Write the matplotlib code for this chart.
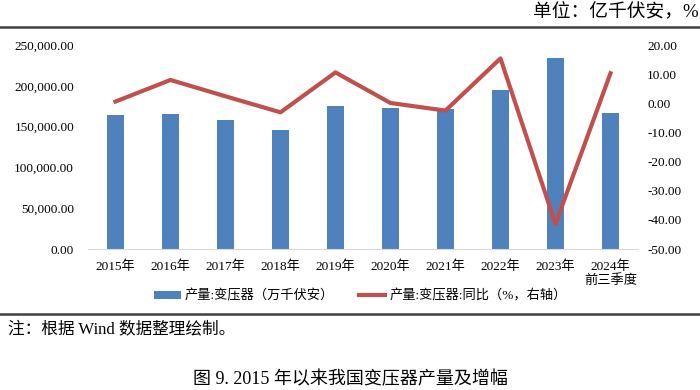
import matplotlib
matplotlib.use("Agg")
import matplotlib.pyplot as plt
from matplotlib.lines import Line2D
from matplotlib.patches import Patch
from matplotlib.ticker import FuncFormatter, FixedLocator

plt.rcParams['font.family'] = ['Liberation Serif', 'Noto Sans CJK SC']
plt.rcParams['axes.unicode_minus'] = False

# === data ===
years = ["2015年", "2016年", "2017年", "2018年", "2019年", "2020年",
         "2021年", "2022年", "2023年", "2024年\n前三季度"]
output = [164200, 165400, 158400, 145500, 175200, 173200,
          171600, 194500, 233700, 167000]
yoy = [0.6, 8.0, 2.4, -3.1, 10.6, 0.1, -2.5, 15.4, -41.4, 10.3]

bar_color = "#4F81BD"
line_color = "#C0504D"

fig = plt.figure(figsize=(7, 3.9), dpi=100)
ax = fig.add_axes([0.1257, 0.3615, 0.7857, 0.5231])
ax2 = ax.twinx()

x = range(len(years))
ax.bar(x, output, width=0.31, color=bar_color, zorder=2)
ax2.plot(x, yoy, color=line_color, linewidth=3, zorder=3)

ax.set_xlim(-0.5, len(years) - 0.5)
ax.set_ylim(0, 250000)
ax.yaxis.set_major_locator(FixedLocator([0, 50000, 100000, 150000, 200000, 250000]))
ax.yaxis.set_major_formatter(FuncFormatter(lambda v, p: f"{v:,.2f}"))
ax2.set_ylim(-50, 20)
ax2.yaxis.set_major_locator(FixedLocator(list(range(-50, 21, 10))))
ax2.yaxis.set_major_formatter(FuncFormatter(lambda v, p: f"{v:.2f}"))

ax.set_xticks(list(x))
ax.set_xticklabels(years, fontsize=9.5, linespacing=1.1)

for a in (ax, ax2):
    for s in ("top", "left", "right", "bottom"):
        a.spines[s].set_visible(False)
ax.spines["bottom"].set_visible(True)
ax.spines["bottom"].set_color("#D9D9D9")

ax.tick_params(axis="y", length=0, pad=10, labelsize=9.5)
ax2.tick_params(axis="y", length=0, pad=6.5, labelsize=9.5)
ax.tick_params(axis="x", length=0, pad=8)

handles = [Patch(facecolor=bar_color, edgecolor="none"),
           Line2D([0], [0], color=line_color, linewidth=3)]
labels = ["产量:变压器（万千伏安）", "产量:变压器:同比（%，右轴）"]
fig.legend(handles, labels, loc="center", bbox_to_anchor=(0.515, 0.241),
           ncol=2, frameon=False, fontsize=9.5, handlelength=2.0,
           handleheight=0.5, columnspacing=1.9, handletextpad=0.3)

# rules, unit and notes
fig.add_artist(Line2D([0, 1], [1 - 27 / 390, 1 - 27 / 390], color="#404040", linewidth=1.8))
fig.add_artist(Line2D([0, 1], [1 - 314 / 390, 1 - 314 / 390], color="#404040", linewidth=1.8))
fig.text(0.998, 1 - 12 / 390, "单位：亿千伏安，%", ha="right", va="center", fontsize=13.5)
fig.text(0.011, 1 - 330 / 390, "注：根据 Wind 数据整理绘制。", ha="left", va="center", fontsize=12)
fig.text(0.5, 1 - 380 / 390, "图 9. 2015 年以来我国变压器产量及增幅", ha="center", va="center", fontsize=13)

fig.savefig("out.png", dpi=100)
